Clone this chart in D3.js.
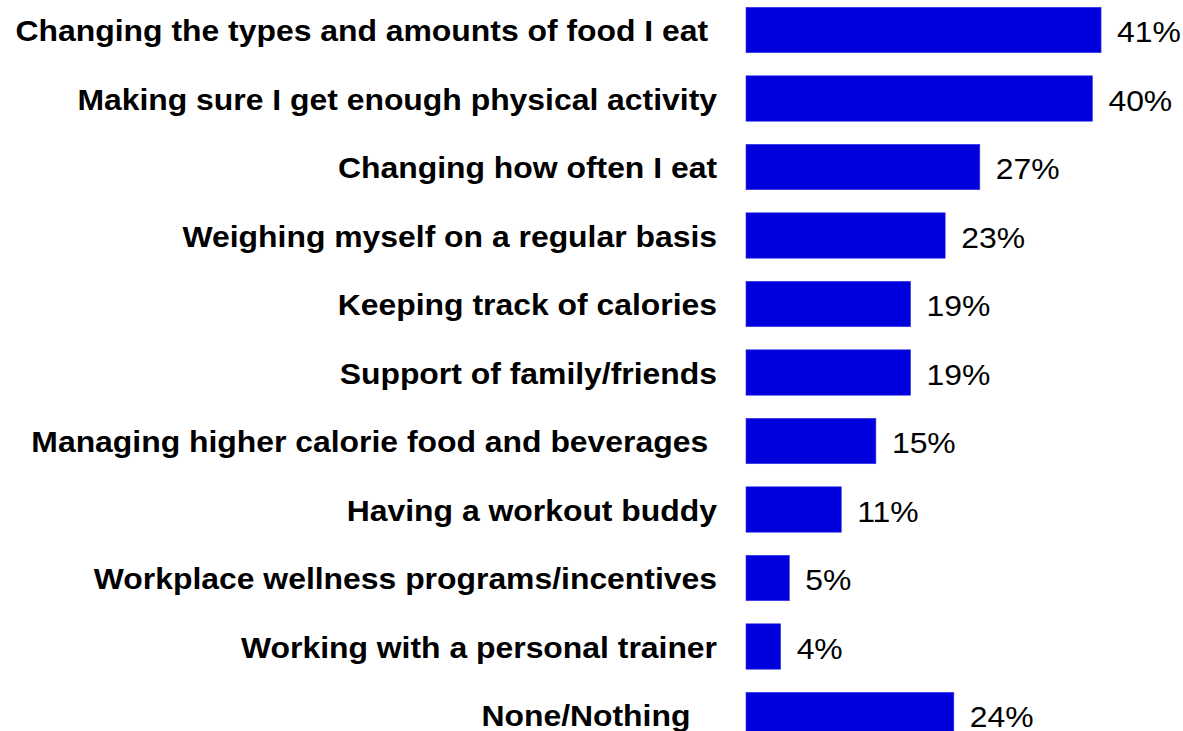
<!DOCTYPE html>
<html>
<head>
<meta charset="utf-8">
<script src="https://cdn.jsdelivr.net/npm/d3@7"></script>
<style>
  html, body { margin: 0; padding: 0; background: #ffffff; }
  svg { display: block; }
  text { font-family: "Liberation Sans", Arial, Helvetica, sans-serif; white-space: pre; }
</style>
</head>
<body>
<svg id="chart" width="1183" height="731"></svg>
<script>
// Survey answers: what helps with managing weight (share of respondents)
const categories = [
  "Changing the types and amounts of food I eat ",
  "Making sure I get enough physical activity",
  "Changing how often I eat",
  "Weighing myself on a regular basis",
  "Keeping track of calories",
  "Support of family/friends",
  "Managing higher calorie food and beverages ",
  "Having a workout buddy",
  "Workplace wellness programs/incentives",
  "Working with a personal trainer",
  "None/Nothing   "
];
const values = [41, 40, 27, 23, 19, 19, 15, 11, 5, 4, 24];
const valueLabels = ["41%", "40%", "27%", "23%", "19%", "19%", "15%", "11%", "5%", "4%", "24%"];

const width = 1183, height = 731;
const barLeft = 746;
const pxPerPoint = 8.66;
const rowStep = 68.5;
const innerPad = 0.337;
const firstBarTop = 7.3;
const fontSize = 29;
const stretchX = 1.1;   // text is drawn slightly wide

const svg = d3.select("#chart");

const x = d3.scaleLinear()
  .domain([0, 100])
  .range([barLeft, barLeft + 100 * pxPerPoint]);

const y0 = firstBarTop - (innerPad / 2) * rowStep;
const y = d3.scaleBand()
  .domain(categories)
  .range([y0, y0 + categories.length * rowStep])
  .paddingInner(innerPad)
  .paddingOuter(innerPad / 2);

const rows = categories.map((c, i) => ({ cat: c, value: values[i], label: valueLabels[i] }));
const midY = d => y(d.cat) + y.bandwidth() / 2;

// bars
svg.append("g")
  .selectAll("rect")
  .data(rows)
  .join("rect")
  .attr("x", x(0))
  .attr("y", d => y(d.cat))
  .attr("width", d => x(d.value) - x(0))
  .attr("height", y.bandwidth())
  .attr("fill", "#0000dc")
  .attr("stroke", "#3a3ae6")
  .attr("stroke-width", 0.6);

// category labels, right-aligned left of the bars
svg.append("g")
  .selectAll("text")
  .data(rows)
  .join("text")
  .attr("xml:space", "preserve")
  .attr("transform", d => `translate(717,${midY(d)}) scale(${stretchX},1)`)
  .attr("dy", "0.38em")
  .attr("text-anchor", "end")
  .attr("font-size", fontSize)
  .attr("font-weight", "bold")
  .attr("fill", "#000")
  .text(d => d.cat);

// value labels at the end of each bar
svg.append("g")
  .selectAll("text")
  .data(rows)
  .join("text")
  .attr("transform", d => `translate(${x(d.value) + 16},${midY(d)}) scale(${stretchX},1)`)
  .attr("dy", "0.42em")
  .attr("font-size", fontSize)
  .attr("fill", "#000")
  .text(d => d.label);
</script>
</body>
</html>
